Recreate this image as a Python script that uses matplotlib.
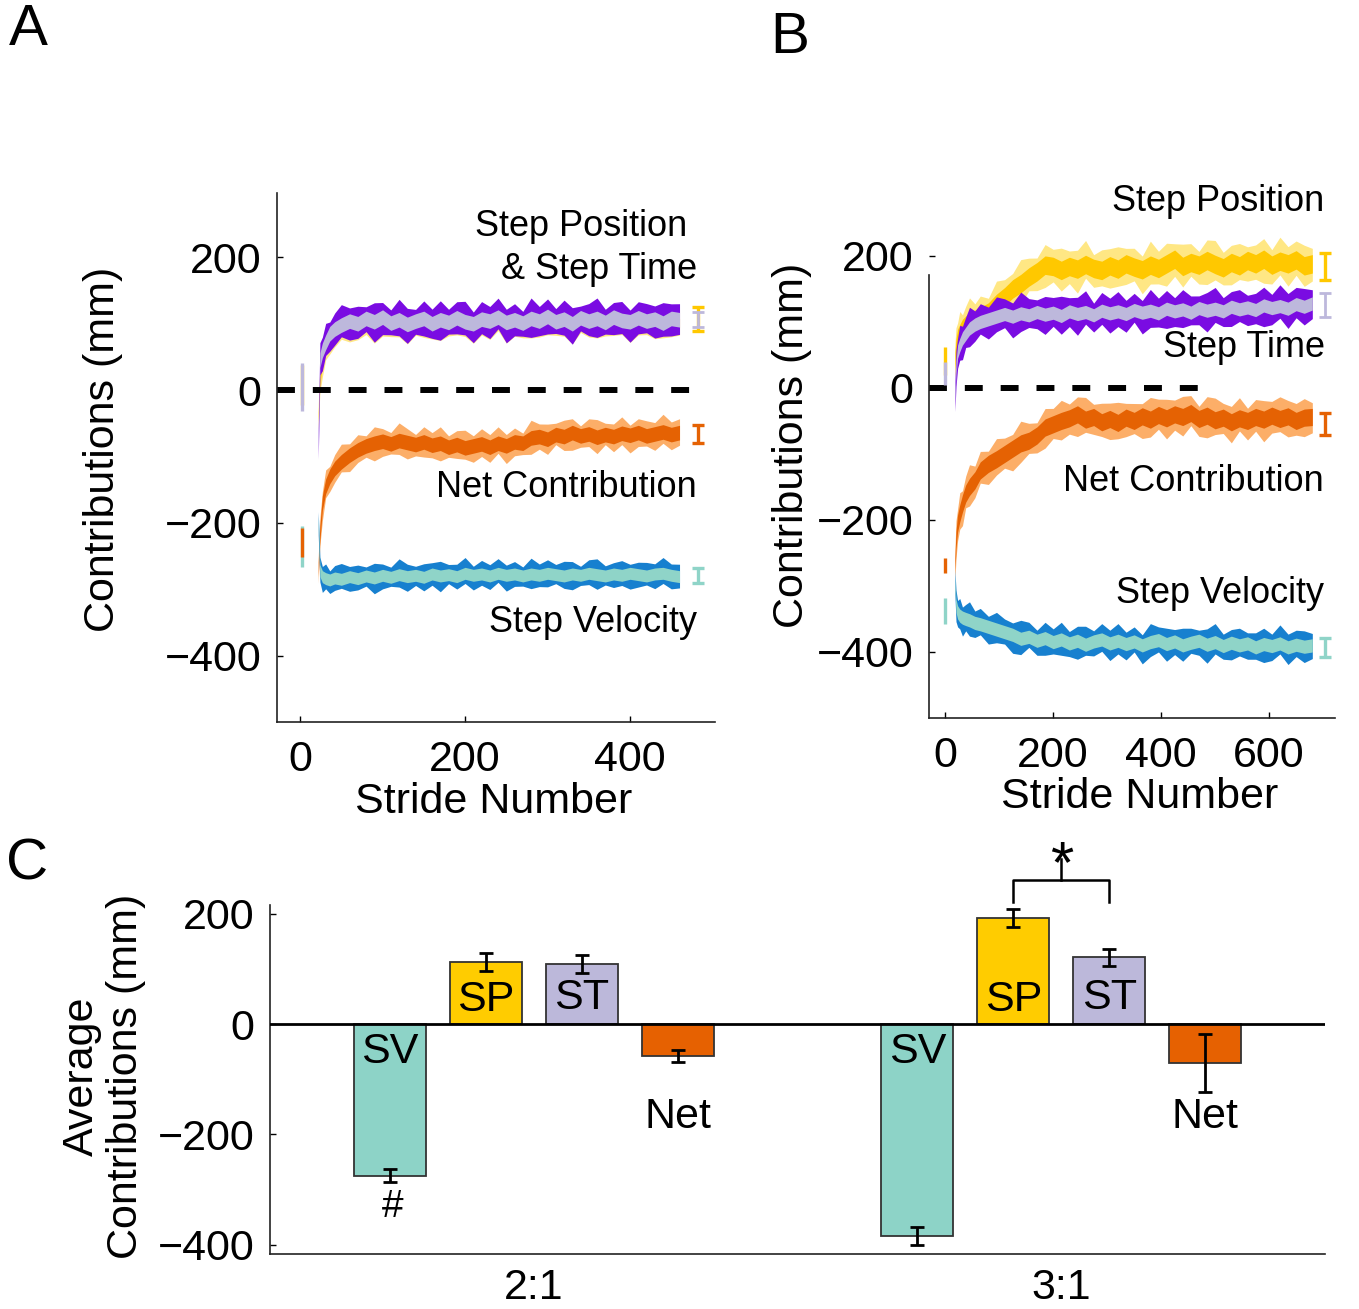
import matplotlib.pyplot as plt
import numpy as np

plt.rcParams['font.family'] = ['Liberation Sans', 'DejaVu Sans']

# ---- panel A (2:1) traces, mean per stride ----
strides_a = [22, 24, 27, 31, 36, 42, 50, 60, 70, 80, 90, 100, 110, 120, 130, 140,
             150, 160, 170, 180, 190, 200, 210, 220, 230, 240, 250, 260, 270, 280,
             290, 300, 310, 320, 330, 340, 350, 360, 370, 380, 390, 400, 410, 420,
             430, 440, 450, 460]
sp_a = [-40, 15, 45, 62, 76, 85, 91, 96, 94, 100, 96, 103, 95, 100, 93, 99,
        101, 95, 100, 96, 103, 97, 94, 101, 98, 104, 96, 101, 95, 102,
        98, 105, 97, 101, 95, 103, 98, 102, 96, 104, 100, 97, 103, 98,
        101, 95, 102, 101]
st_a = [-80, 45, 60, 72, 85, 92, 98, 104, 100, 108, 103, 110, 101, 106, 99, 104,
        108, 100, 106, 102, 109, 103, 100, 107, 104, 110, 102, 106, 101, 108,
        104, 111, 103, 107, 100, 109, 104, 108, 102, 110, 105, 103, 109, 104,
        107, 101, 108, 106]
net_a = [-270, -215, -170, -145, -130, -118, -108, -98, -90, -84, -80, -77, -81, -76, -79, -82,
         -78, -83, -80, -86, -82, -87, -84, -81, -86, -80, -84, -78, -80, -72,
         -70, -74, -67, -70, -64, -69, -66, -71, -67, -70, -65, -68, -64, -69,
         -66, -63, -67, -64]
sv_a = [-200, -272, -281, -284, -286, -283, -285, -281, -284, -280, -283, -279, -282, -278, -281, -279,
        -282, -277, -280, -278, -281, -276, -279, -277, -280, -276, -279, -277, -280, -277,
        -279, -276, -278, -280, -277, -279, -276, -278, -280, -277, -279, -276, -278, -280,
        -277, -276, -279, -281]
# stride-to-stride spread of the shaded band (relative)
spread_a = [1.0, 1.2, 0.9, 1.3, 0.8, 1.1, 1.4, 0.9, 1.2, 0.8, 1.3, 1.0, 0.9, 1.4, 1.1, 0.8,
            1.2, 1.0, 1.3, 0.9, 1.1, 1.4, 0.8, 1.2, 1.0, 1.3, 0.9, 1.1, 0.8, 1.4,
            1.0, 1.2, 0.9, 1.3, 1.1, 0.8, 1.2, 1.4, 0.9, 1.0, 1.3, 0.8, 1.1, 1.2,
            0.9, 1.4, 1.0, 1.1]

# ---- panel B (3:1) traces ----
strides_b = [18, 20, 23, 27, 32, 38, 45, 55, 65, 80] + list(range(95, 681, 15))
sp_b = [40, 60, 75, 82, 90, 95, 100, 104, 108, 115,
        128, 138, 150, 158, 168, 176, 186, 184, 178, 184,
        180, 187, 181, 178, 185, 180, 188, 183, 179, 186,
        181, 188, 195, 184, 190, 186, 193, 187, 182, 190,
        185, 193, 188, 195, 186, 192, 188, 194, 185, 188]
st_b = [-15, 30, 55, 65, 75, 82, 90, 96, 100, 104,
        108, 112, 108, 113, 110, 115, 111, 114, 109, 116,
        112, 115, 110, 117, 113, 116, 112, 118, 114, 117,
        113, 120, 116, 119, 114, 121, 117, 120, 116, 123,
        119, 122, 118, 125, 121, 124, 120, 127, 123, 128]
net_b = [-270, -230, -205, -190, -175, -160, -150, -140, -125, -115,
         -108, -100, -92, -84, -80, -72, -60, -55, -50, -46,
         -40, -48, -44, -52, -47, -53, -45, -50, -43, -48,
         -41, -46, -40, -44, -38, -47, -42, -49, -45, -52,
         -46, -50, -44, -48, -42, -47, -43, -50, -45, -44]
sv_b = [-295, -330, -340, -345, -348, -350, -352, -356, -358, -362,
        -366, -370, -374, -380, -377, -383, -379, -385, -381, -387,
        -383, -389, -384, -381, -387, -383, -388, -384, -390, -385,
        -382, -388, -384, -390, -386, -383, -389, -385, -391, -386,
        -390, -387, -393, -388, -391, -387, -393, -389, -392, -390]
spread_b = [1.0, 1.2, 0.9, 1.3, 0.8, 1.1, 1.4, 0.9, 1.2, 0.8, 1.3, 1.0, 0.9, 1.4, 1.1, 0.8,
            1.2, 1.0, 1.3, 0.9, 1.1, 1.4, 0.8, 1.2, 1.0, 1.3, 0.9, 1.1, 0.8, 1.4,
            1.0, 1.2, 0.9, 1.3, 1.1, 0.8, 1.2, 1.4, 0.9, 1.0, 1.3, 0.8, 1.1, 1.2,
            0.9, 1.4, 1.0, 1.1, 1.2, 0.9]

# band half-widths (inner, outer) in mm, order SP, ST, Net, SV
band_a = [(7, 18), (11, 22), (11, 19), (9, 17)]
band_b = [(14, 26), (10, 23), (13, 24), (10, 20)]

# baseline (mean, err) and late-adaptation (mean, err), order SP, ST, Net, SV
base_a = [(8, 30), (5, 36), (-230, 22), (-236, 31)]
end_a = [(107, 18), (106, 11), (-66, 13), (-279, 11)]
base_b = [(41, 21), (22, 17), (-269, 11), (-338, 20)]
end_b = [(184, 20), (126, 18), (-55, 17), (-393, 14)]

# ---- panel C bars ----
groups = ['2:1', '3:1']
bar_names = ['SV', 'SP', 'ST', 'Net']
bar_vals = [[-275, 113, 109, -58], [-384, 192, 121, -71]]
bar_errs = [[12, 16, 16, 11], [16, 16, 16, 53]]

col_in = ['#ffc800', '#bdb8dc', '#e56203', '#8fd4c8']
col_out = ['#ffe784', '#7a0ce2', '#fcae68', '#1780cf']
bar_cols = ['#8dd3c7', '#ffcc00', '#bcb8da', '#e66101']

fig = plt.figure(figsize=(13.59, 13.09), dpi=100)


def style(ax):
    for s in ['top', 'right']:
        ax.spines[s].set_visible(False)
    for s in ['left', 'bottom']:
        ax.spines[s].set_linewidth(1.2)
        ax.spines[s].set_color('#222222')
    ax.tick_params(direction='in', length=4, width=1, labelsize=31, pad=11)


def traces(ax, x, series, spread, bands, base, end, x0, x1):
    sp = np.array(spread)
    for i in [2, 3, 0, 1]:
        m = np.array(series[i], dtype=float)
        inner, outer = bands[i]
        ax.fill_between(x, m - outer * sp[::-1], m + outer * sp, color=col_out[i], lw=0)
        ax.fill_between(x, m - inner, m + inner, color=col_in[i], lw=0)
    for i in [3, 2, 0, 1]:
        m, e = base[i]
        ax.vlines(x0, m - e, m + e, color=col_in[i], lw=2.4)
    for i in [0, 1, 2, 3]:
        m, e = end[i]
        w = 2.4 if i != 1 else 2.0
        ax.errorbar([x1], [m], yerr=[e], color=col_in[i], lw=w, capsize=4, capthick=w)


# panel A
axA = fig.add_axes([277 / 1359, 1 - 722 / 1309, (715 - 277) / 1359, (722 - 193) / 1309])
style(axA)
traces(axA, strides_a, [sp_a, st_a, net_a, sv_a], spread_a, band_a, base_a, end_a, 2, 482)
axA.plot([-28, 485], [0, 0], color='black', lw=4.3, dashes=(3, 3), zorder=1)
axA.set_xlim(-28, 503)
axA.set_ylim(-500, 297)
axA.set_xticks([0, 200, 400])
axA.set_yticks([-400, -200, 0, 200])
axA.tick_params(axis='x', pad=13)
axA.text(469, 247, 'Step Position', fontsize=26, ha='right', va='center')
axA.text(481, 181, '& Step Time', fontsize=26, ha='right', va='center')
axA.text(481, -146, 'Net Contribution', fontsize=26, ha='right', va='center')
axA.text(481, -350, 'Step Velocity', fontsize=26, ha='right', va='center')

# panel B
axB = fig.add_axes([929 / 1359, 1 - 718 / 1309, (1335 - 929) / 1359, (718 - 180) / 1309])
style(axB)
traces(axB, strides_b, [sp_b, st_b, net_b, sv_b], spread_b, band_b, base_b, end_b, 0, 704)
axB.plot([-30, 480], [0, 0], color='black', lw=4.3, dashes=(3, 3), zorder=1)
axB.set_xlim(-30, 722)
axB.set_ylim(-500, 315)
axB.spines['left'].set_bounds(-500, 171)
axB.set_xticks([0, 200, 400, 600])
axB.set_yticks([-400, -200, 0, 200])
axB.tick_params(axis='x', pad=13)
axB.text(702, 282, 'Step Position', fontsize=26, ha='right', va='center')
axB.text(704, 61, 'Step Time', fontsize=26, ha='right', va='center')
axB.text(702, -141, 'Net Contribution', fontsize=26, ha='right', va='center')
axB.text(702, -311, 'Step Velocity', fontsize=26, ha='right', va='center')

fig.text(103 / 1359, 1 - 449 / 1309, 'Contributions (mm)', fontsize=31, rotation=90,
         ha='center', va='center')
fig.text(792 / 1359, 1 - 445 / 1309, 'Contributions (mm)', fontsize=31, rotation=90,
         ha='center', va='center')
fig.text(494 / 1359, 1 - 802 / 1309, 'Stride Number', fontsize=31, ha='center', va='center')
fig.text(1140 / 1359, 1 - 797 / 1309, 'Stride Number', fontsize=31, ha='center', va='center')

# panel C
axC = fig.add_axes([270 / 1359, 1 - 1254 / 1309, (1325 - 270) / 1359, (1254 - 905) / 1309])
style(axC)
offsets = [-0.273, -0.091, 0.091, 0.273]
for g in range(len(groups)):
    xs = [g + 1 + o for o in offsets]
    axC.bar(xs, bar_vals[g], width=0.136, color=bar_cols, edgecolor='#333333',
            linewidth=1.3, zorder=2)
    axC.errorbar(xs, bar_vals[g], yerr=bar_errs[g], fmt='none', ecolor='black',
                 elinewidth=2, capsize=5, capthick=2, zorder=3)
    axC.text(xs[0], -51, 'SV', fontsize=31, ha='center', va='center', zorder=4)
    axC.text(xs[1], 43, 'SP', fontsize=31, ha='center', va='center', zorder=4)
    axC.text(xs[2], 47, 'ST', fontsize=31, ha='center', va='center', zorder=4)
    axC.text(xs[3], -168, 'Net', fontsize=31, ha='center', va='center', zorder=4)
axC.text(1 + offsets[0] + 0.005, -332, '#', fontsize=28, ha='center', va='center')
axC.axhline(0, color='black', lw=2, zorder=3)

# significance bracket between SP and ST at 3:1
bx0, bx1 = 2 + offsets[1], 2 + offsets[2]
axC.plot([bx0, bx0, bx1, bx1], [222, 262, 262, 222], color='black', lw=1.8, clip_on=False)
axC.plot([(bx0 + bx1) / 2] * 2, [262, 299], color='black', lw=1.8, clip_on=False)
axC.text((bx0 + bx1) / 2, 257, '*', fontsize=43, ha='center', va='baseline')

axC.set_xlim(0.5, 2.5)
axC.set_ylim(-417, 216)
axC.set_yticks([-400, -200, 0, 200])
axC.set_xticks([1, 2])
axC.set_xticklabels(groups)
axC.tick_params(axis='x', length=0, pad=10)
fig.text(104 / 1359, 1 - 1076 / 1309, 'Average\nContributions (mm)', fontsize=31,
         rotation=90, ha='center', va='center', multialignment='center', linespacing=1.12)

# panel letters
fig.text(28 / 1359, 1 - 30 / 1309, 'A', fontsize=42, ha='center', va='center')
fig.text(790 / 1359, 1 - 38 / 1309, 'B', fontsize=42, ha='center', va='center')
fig.text(27 / 1359, 1 - 865 / 1309, 'C', fontsize=42, ha='center', va='center')

fig.savefig('out.png', dpi=100)
